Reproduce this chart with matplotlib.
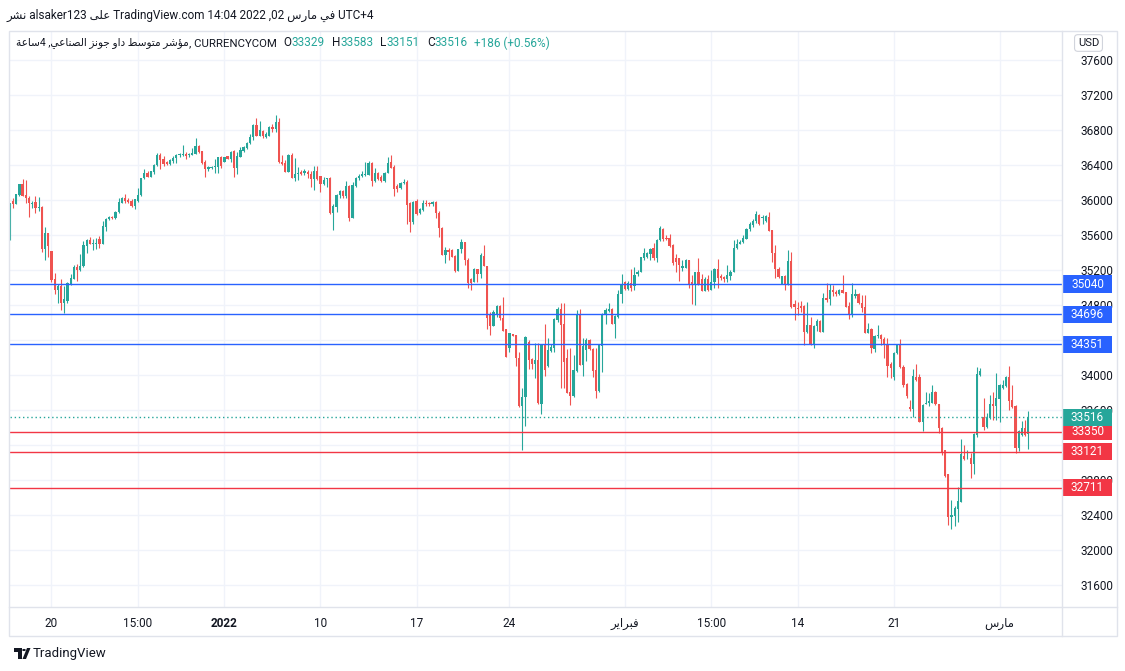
import numpy as np
import matplotlib.pyplot as plt
from matplotlib.patches import Rectangle, Polygon, Circle
from matplotlib.transforms import blended_transform_factory

plt.rcParams['font.family'] = ['Roboto', 'DejaVu Sans']

# 4h candles, Dow Jones (CURRENCYCOM)
opens = [35540, 35985, 35954, 36057, 36179, 36053, 36026, 35954, 35977, 35908,
         35920, 35436, 35619, 35413, 35093, 34971, 35013, 34826, 34846, 35032,
         35093, 35238, 35200, 35246, 35474, 35543, 35497, 35497, 35558, 35497,
         35695, 35786, 35809, 35794, 35867, 35969, 36019, 36000, 35988, 35931,
         35988, 36057, 36248, 36312, 36267, 36320, 36396, 36514, 36465, 36438,
         36411, 36450, 36476, 36510, 36514, 36526, 36510, 36518, 36522, 36617,
         36560, 36438, 36354, 36366, 36373, 36377, 36495, 36438, 36503, 36465,
         36560, 36369, 36495, 36560, 36598, 36648, 36716, 36857, 36735, 36789,
         36724, 36735, 36834, 36811, 36888, 36438, 36427, 36324, 36514, 36255,
         36293, 36324, 36305, 36324, 36297, 36240, 36331, 36274, 36183, 36240,
         36251, 35847, 35924, 36057, 36103, 36046, 36160, 35798, 36164, 36248,
         36274, 36286, 36286, 36427, 36217, 36305, 36267, 36217, 36305, 36430,
         36377, 36160, 36133, 36190, 36202, 35962, 35745, 35988, 35847, 35886,
         35969, 35966, 35950, 35973, 35855, 35676, 35371, 35428, 35428, 35360,
         35192, 35436, 35516, 35314, 35093, 35059, 35211, 35150, 35364, 35249,
         34693, 34564, 34693, 34792, 34655, 34526, 34304, 34465, 34457, 34198,
         33649, 33752, 34381, 34182, 34121, 34171, 33672, 34346, 34106, 34278,
         34312, 34628, 34750, 34583, 34190, 33809, 33764, 34049, 34697, 34114,
         34285, 34400, 34297, 34057, 33821, 34335, 34693, 34735, 34754, 34583,
         34666, 34926, 35059, 34983, 35047, 35021, 35150, 35181, 35333, 35352,
         35387, 35448, 35341, 35543, 35669, 35570, 35570, 35486, 35341, 35341,
         35227, 35227, 35314, 35059, 35029, 35173, 35097, 34960, 35097, 34971,
         35059, 35211, 35135, 35124, 35097, 35135, 35173, 35448, 35497, 35516,
         35558, 35665, 35714, 35760, 35829, 35791, 35760, 35802, 35657, 35391,
         35211, 35036, 35131, 35036, 35303, 34808, 34769, 34789, 34789, 34488,
         34571, 34350, 34560, 34617, 34495, 34880, 34865, 34971, 34952, 34922,
         34971, 34945, 34788, 34693, 34906, 34922, 34826, 34777, 34484, 34525,
         34297, 34442, 34457, 34411, 34358, 34122, 33981, 34247, 34350, 34095,
         33897, 33634, 33611, 33981, 33973, 33466, 33672, 33676, 33684, 33809,
         33665, 33398, 33143, 32864, 32373, 32392, 32468, 32552, 33074, 33047,
         33047, 32986, 33314, 34000, 33516, 33410, 33505, 33665, 33649, 33726,
         33847, 33878, 33981, 33714, 33645, 33169, 33314, 33390, 33329]
highs = [35965, 36026, 36072, 36187, 36236, 36232, 36046, 35988, 36046, 36030,
         35931, 35691, 35619, 35413, 35169, 35044, 35093, 35017, 35063, 35150,
         35253, 35264, 35379, 35531, 35550, 35581, 35558, 35569, 35588, 35760,
         35798, 35817, 35817, 35870, 36023, 36030, 36068, 36023, 36008, 36015,
         36141, 36248, 36350, 36331, 36328, 36408, 36541, 36541, 36503, 36446,
         36465, 36503, 36526, 36541, 36625, 36548, 36541, 36598, 36712, 36625,
         36560, 36453, 36392, 36392, 36472, 36495, 36507, 36495, 36503, 36560,
         36571, 36552, 36609, 36613, 36667, 36750, 36865, 36933, 36903, 36800,
         36773, 36849, 36865, 36971, 36933, 36514, 36453, 36522, 36541, 36476,
         36377, 36343, 36354, 36343, 36331, 36389, 36389, 36274, 36267, 36255,
         36259, 35954, 36065, 36114, 36114, 36221, 36171, 36209, 36267, 36293,
         36331, 36438, 36446, 36438, 36362, 36324, 36286, 36324, 36495, 36514,
         36400, 36179, 36209, 36240, 36228, 35973, 35988, 36011, 35912, 36000,
         36000, 35981, 35988, 35988, 35874, 35695, 35467, 35455, 35440, 35371,
         35440, 35550, 35524, 35333, 35105, 35219, 35211, 35390, 35486, 35249,
         34724, 34743, 34800, 34800, 34895, 34526, 34476, 34472, 34457, 34266,
         33847, 34449, 34400, 34198, 34362, 34362, 34350, 34583, 34419, 34350,
         34655, 34781, 34819, 34819, 34297, 34304, 34228, 34743, 34750, 34419,
         34419, 34411, 34304, 34304, 34358, 34705, 34762, 34826, 34762, 34686,
         34971, 35150, 35074, 35074, 35211, 35238, 35196, 35352, 35448, 35410,
         35455, 35505, 35550, 35707, 35684, 35600, 35608, 35493, 35379, 35341,
         35314, 35322, 35314, 35143, 35181, 35341, 35150, 35124, 35143, 35200,
         35219, 35326, 35150, 35135, 35257, 35200, 35543, 35550, 35543, 35600,
         35676, 35745, 35783, 35874, 35836, 35829, 35829, 35867, 35657, 35486,
         35238, 35135, 35143, 35429, 35410, 34857, 34838, 34846, 34800, 34838,
         34667, 34571, 34636, 34628, 34933, 35048, 35036, 35029, 34971, 34983,
         35143, 34952, 34838, 35047, 34983, 34933, 34914, 34914, 34590, 34533,
         34457, 34571, 34465, 34438, 34419, 34152, 34259, 34350, 34411, 34114,
         33904, 33714, 34068, 34122, 34008, 33665, 33809, 33790, 33885, 33817,
         33665, 33410, 33143, 32864, 32571, 32506, 32722, 33269, 33200, 33143,
         33104, 33333, 34095, 34084, 33741, 33562, 33771, 33809, 34019, 33893,
         33943, 33988, 34106, 33885, 33657, 33371, 33474, 33485, 33583]
lows = [35540, 35912, 35954, 36046, 36046, 35969, 35809, 35912, 35855, 35874,
        35406, 35314, 35348, 35063, 34922, 34826, 34743, 34705, 34826, 35025,
        35093, 35074, 35189, 35238, 35390, 35497, 35428, 35436, 35447, 35497,
        35646, 35771, 35779, 35786, 35855, 35962, 35969, 35969, 35916, 35893,
        35977, 36046, 36236, 36259, 36259, 36301, 36389, 36350, 36389, 36396,
        36404, 36427, 36427, 36495, 36503, 36472, 36495, 36510, 36522, 36541,
        36411, 36263, 36331, 36358, 36305, 36305, 36362, 36430, 36465, 36438,
        36267, 36301, 36491, 36552, 36583, 36636, 36686, 36735, 36735, 36712,
        36705, 36735, 36781, 36781, 36419, 36400, 36324, 36324, 36248, 36217,
        36225, 36286, 36286, 36248, 36152, 36114, 36228, 36095, 36171, 36152,
        35840, 35657, 35859, 36019, 36019, 36019, 35764, 35798, 36152, 36228,
        36267, 36278, 36286, 36160, 36209, 36228, 36209, 36209, 36305, 36362,
        36049, 36087, 36126, 36179, 35722, 35638, 35722, 35829, 35836, 35874,
        35935, 35935, 35935, 35790, 35577, 35371, 35276, 35314, 35352, 35181,
        35188, 35390, 35257, 34990, 34971, 35059, 35067, 35112, 35242, 34526,
        34457, 34564, 34666, 34628, 34503, 34209, 34259, 34442, 34106, 33638,
        33143, 33421, 34064, 34068, 33969, 33664, 33550, 33992, 34095, 34266,
        34259, 34609, 33855, 33847, 33790, 33657, 33752, 34038, 34114, 33988,
        34163, 34285, 33981, 33733, 33802, 34038, 34579, 34724, 34579, 34426,
        34647, 34826, 34967, 34971, 34964, 34971, 35135, 35173, 35314, 35341,
        35314, 35314, 35288, 35531, 35531, 35547, 35467, 35257, 35181, 35074,
        35189, 35219, 34990, 34811, 34800, 35029, 34960, 34960, 34960, 34971,
        34990, 34998, 35086, 35059, 35059, 35086, 35173, 35440, 35493, 35505,
        35550, 35646, 35695, 35733, 35714, 35722, 35752, 35646, 35288, 35105,
        35112, 35036, 34971, 35029, 34769, 34625, 34686, 34724, 34343, 34476,
        34343, 34305, 34503, 34488, 34488, 34838, 34800, 34907, 34906, 34914,
        34933, 34781, 34640, 34666, 34884, 34807, 34724, 34476, 34476, 34247,
        34266, 34426, 34343, 34190, 33981, 33969, 33943, 34236, 34083, 33866,
        33741, 33588, 33523, 33931, 33459, 33360, 33665, 33649, 33676, 33657,
        33333, 33085, 32838, 32285, 32240, 32274, 32323, 32544, 33028, 33036,
        32818, 32864, 33295, 33992, 33371, 33390, 33497, 33485, 33485, 33466,
        33840, 33866, 33600, 33619, 33104, 33131, 33306, 33306, 33151]
closes = [35965, 35954, 36065, 36179, 36046, 36023, 35966, 35969, 35912, 35920,
          35436, 35619, 35474, 35082, 34971, 35013, 34826, 34865, 35055, 35112,
          35238, 35200, 35246, 35482, 35543, 35497, 35508, 35508, 35497, 35703,
          35779, 35809, 35794, 35867, 35977, 36023, 35985, 35977, 35931, 36008,
          36061, 36248, 36305, 36267, 36328, 36404, 36514, 36453, 36408, 36408,
          36457, 36480, 36510, 36529, 36526, 36503, 36522, 36541, 36617, 36548,
          36427, 36350, 36373, 36381, 36385, 36495, 36389, 36495, 36469, 36545,
          36369, 36503, 36571, 36606, 36648, 36724, 36857, 36735, 36800, 36731,
          36750, 36830, 36811, 36888, 36438, 36411, 36324, 36514, 36255, 36297,
          36305, 36297, 36335, 36293, 36240, 36331, 36240, 36183, 36228, 36251,
          35847, 35931, 36057, 36103, 36046, 36160, 35798, 36171, 36255, 36278,
          36297, 36301, 36427, 36217, 36305, 36240, 36217, 36305, 36427, 36369,
          36122, 36122, 36190, 36202, 35943, 35745, 35981, 35836, 35897, 35962,
          35954, 35950, 35973, 35848, 35676, 35371, 35428, 35409, 35352, 35192,
          35440, 35516, 35310, 35047, 35055, 35211, 35150, 35371, 35242, 34647,
          34564, 34724, 34792, 34647, 34506, 34209, 34476, 34449, 34190, 33645,
          33752, 34430, 34171, 34121, 34171, 33676, 34346, 34053, 34285, 34324,
          34636, 34750, 34571, 34144, 33798, 33764, 34057, 34693, 34114, 34335,
          34400, 34297, 34049, 33821, 34343, 34697, 34743, 34754, 34586, 34674,
          34926, 35040, 34979, 35047, 34990, 35143, 35181, 35345, 35391, 35391,
          35440, 35333, 35543, 35676, 35558, 35554, 35478, 35276, 35288, 35257,
          35242, 35314, 35040, 35029, 35173, 35040, 34960, 35097, 34971, 35067,
          35211, 35112, 35105, 35097, 35143, 35173, 35455, 35493, 35524, 35562,
          35669, 35726, 35764, 35840, 35726, 35810, 35821, 35650, 35391, 35211,
          35124, 35131, 35036, 35303, 34781, 34781, 34758, 34762, 34488, 34571,
          34350, 34560, 34617, 34495, 34876, 34861, 34971, 34945, 34922, 34971,
          34941, 34781, 34693, 34922, 34922, 34819, 34769, 34484, 34522, 34312,
          34449, 34457, 34411, 34350, 34106, 34076, 34247, 34350, 34095, 33885,
          33760, 33611, 33988, 33943, 33466, 33657, 33684, 33702, 33802, 33665,
          33398, 33104, 32849, 32373, 32399, 32476, 32559, 33093, 33039, 33055,
          32986, 33322, 34008, 34046, 33402, 33505, 33665, 33649, 33733, 33885,
          33885, 33981, 33703, 33638, 33169, 33360, 33390, 33314, 33516]

support_levels = [33350, 33121, 32711]
resistance_levels = [35040, 34696, 34351]
last_price = 33516

price_ticks = list(range(31600, 37601, 400))
hidden_ticks = [33200, 34400]  # fully covered by the price boxes in the screenshot
tick_idx = [13, 40, 67, 97, 127, 156, 192, 219, 246, 276, 309]
FEB = "\uFEAE\uFEF3\uFE8D\uFEAE\uFE92\uFED3"
MAR = "\uFEB1\uFEAD\uFE8E\uFEE3"
tick_labels = ["20", "15:00", "2022", "10", "17", "24", FEB, "15:00", "14", "21", MAR]

ohlc_labels = ['O', 'H', 'L', 'C']
ohlc_values = ['33329', '33583', '33151', '33516']
change_text = '+186 (+0.56%)'

TEAL = '#26A69A'
RED = '#EF5350'
BLUE = '#2962FF'
LRED = '#F23645'
DARK = '#131722'
GRID = '#F0F3FA'
BORDER = '#E0E3EB'

W, H = 1125, 671
fig = plt.figure(figsize=(W / 100, H / 100), dpi=100)


def fx(px):
    return px / W


def fy(py):
    return 1 - py / H


ax = fig.add_axes([fx(10), fy(607), fx(1062) - fx(10), fy(31) - fy(607)])

o = np.array(opens)
h = np.array(highs)
l = np.array(lows)
c = np.array(closes)
x = np.arange(len(o))
col = np.where(c >= o, TEAL, RED)

ax.vlines(x, l, h, colors=col, linewidth=0.8, zorder=3)
body = np.maximum(np.abs(c - o), 9)
ax.bar(x, body, bottom=np.minimum(o, c), width=0.7, color=col, linewidth=0, zorder=3)

for lv in resistance_levels:
    ax.axhline(lv, color=BLUE, linewidth=1.0, zorder=4)
for lv in support_levels:
    ax.axhline(lv, color=LRED, linewidth=1.0, zorder=4)
ax.axhline(last_price, color=TEAL, linewidth=1.0, linestyle=(0, (1, 2)), zorder=4)

step = 3.203
ax.set_xlim((10 - 9.8) / step, (1062 - 9.8) / step)
ax.set_ylim(37600 - (607 - 60) * 400 / 35, 37600 + (60 - 31) * 400 / 35)

ax.set_yticks(price_ticks)
ax.set_yticklabels(['' if p in hidden_ticks else str(p) for p in price_ticks])
ax.yaxis.tick_right()
ax.tick_params(axis='y', length=0, pad=13, labelsize=8.5, labelcolor=DARK)
ax.set_xticks(tick_idx)
ax.set_xticklabels(tick_labels)
ax.tick_params(axis='x', length=0, pad=7, labelsize=8.5, labelcolor=DARK)
ax.get_xticklabels()[2].set_fontweight('bold')
ax.grid(True, color=GRID, linewidth=1.0)
ax.set_axisbelow(True)
for s in ax.spines.values():
    s.set_visible(False)

# price labels on the right scale
trans = blended_transform_factory(ax.transAxes, ax.transData)
box_h = 17 * 400 / 35
bx0 = (1063 - 10) / 1052
bw = 49 / 1052
for lv, fc in [(35040, BLUE), (34696, BLUE), (34351, BLUE),
               (33121, LRED), (33350, LRED), (last_price, TEAL), (32711, LRED)]:
    ax.add_patch(Rectangle((bx0, lv - box_h / 2), bw, box_h, transform=trans,
                           facecolor=fc, edgecolor='none', clip_on=False, zorder=6))
    ax.text(bx0 + bw / 2, lv, str(lv), transform=trans, ha='center', va='center',
            color='white', fontsize=8.5, clip_on=False, zorder=7)

# frame
fig.add_artist(Rectangle((fx(9), fy(636)), fx(1117) - fx(9), fy(31) - fy(636),
                         transform=fig.transFigure, fill=False, edgecolor=BORDER, linewidth=1))
fig.add_artist(plt.Line2D([fx(1062), fx(1062)], [fy(636), fy(31)], color=BORDER, linewidth=1))
fig.add_artist(plt.Line2D([fx(9), fx(1117)], [fy(607), fy(607)], color=BORDER, linewidth=1))

fig.text(fx(1088.5), fy(43), 'USD', ha='center', va='center', fontsize=8, color=DARK,
         bbox=dict(boxstyle='round,pad=0.3', fc='white', ec='#D1D4DC', lw=0.8))

# header lines (Arabic in presentation forms, visual order)
NASHR = "\uFEAE\uFEB8\uFEE7"
ALA = "\uFEF0\uFEE0\uFECB"
FI = "\uFEF2\uFED3"
header = f"{NASHR} alsaker123 {ALA} TradingView.com 14:04 2022 ,02 {MAR} {FI} UTC+4"
fig.text(fx(6), fy(15), header, ha='left', va='center', fontsize=8.5, color=DARK)

SAA = "\uFE94\uFECB\uFE8E\uFEB3"
SINAI = "\uFEF2\uFECB\uFE8E\uFEE8\uFEBC\uFEDF\uFE8D"
JONES = "\uFEB0\uFEE7\uFEEE\uFE9F"
DAW = "\uFEED\uFE8D\uFEA9"
MUTAW = "\uFEC2\uFEB3\uFEEE\uFE98\uFEE3"
MUASH = "\uFEAE\uFEB7\uFE86\uFEE3"
title_ar = f"{SAA}4 ,{SINAI} {JONES} {DAW} {MUTAW} {MUASH}"


def chain(prev, s, gap, size, color):
    return ax.annotate(s, xy=(1, 0.5), xycoords=prev, xytext=(gap, 0), textcoords='offset pixels',
                       ha='left', va='center', fontsize=size, color=color, annotation_clip=False)


t = fig.text(fx(16), fy(43), title_ar, ha='left', va='center', fontsize=7.6, color=DARK)
prev = chain(t, ', CURRENCYCOM', 0, 8.2, DARK)
for lab, val in zip(ohlc_labels, ohlc_values):
    a = chain(prev, lab, 7, 8.5, DARK)
    prev = chain(a, val, 0, 8.5, TEAL)
chain(prev, change_text, 7, 8.5, TEAL)


# TradingView logo
def pts(lst):
    return [(fx(px), fy(py)) for px, py in lst]


fig.add_artist(Polygon(pts([(14, 648), (21.5, 648), (21.5, 659), (18, 659), (18, 651.5), (14, 651.5)]),
                       closed=True, transform=fig.transFigure, facecolor=DARK, edgecolor='none'))
fig.add_artist(Circle((fx(24), fy(650)), 1.8 / W, transform=fig.transFigure, facecolor=DARK))
fig.add_artist(Polygon(pts([(27, 648), (30.5, 648), (26, 659), (22.5, 659)]),
                       closed=True, transform=fig.transFigure, facecolor=DARK, edgecolor='none'))
fig.text(fx(33), fy(653.5), 'TradingView', ha='left', va='center', fontsize=9.5, color=DARK)

fig.savefig('out.png', dpi=100)
